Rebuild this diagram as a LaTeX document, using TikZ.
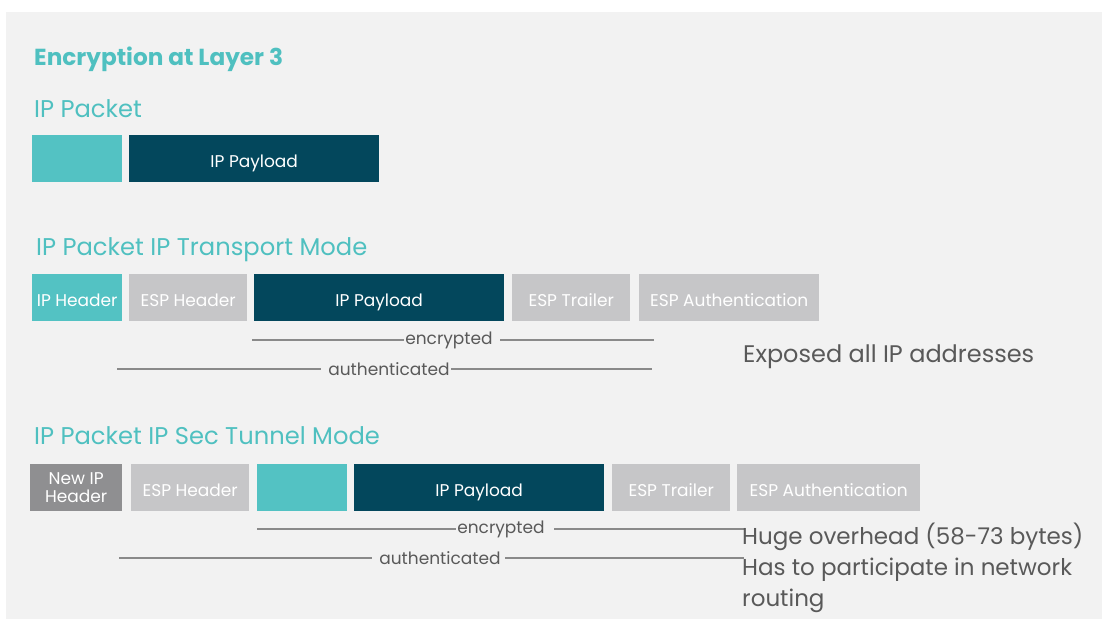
\documentclass[tikz,border=0pt]{standalone}
\usepackage{fontspec}
\setmainfont{Poppins}
\definecolor{bgc}{HTML}{F2F2F2}
\definecolor{teal}{HTML}{53C2C3}
\definecolor{tealt}{HTML}{4FC0C0}
\definecolor{dark}{HTML}{03475C}
\definecolor{lgray}{HTML}{C6C6C8}
\definecolor{mgray}{HTML}{8F8F91}
\definecolor{tgray}{HTML}{595959}
\definecolor{lgline}{HTML}{8A8A8A}
\begin{document}
\begin{tikzpicture}[x=1pt,y=-1pt,
  pbox/.style={rectangle,anchor=north west,inner sep=0pt,minimum height=47pt,text=white,font=\fontsize{17}{19}\selectfont,text height=17pt,text depth=0pt},
  hdr/.style={anchor=base west,inner sep=0pt,text=tealt,font=\fontsize{24.2}{30}\selectfont},
  lbl/.style={inner sep=1.5pt,text=tgray,font=\fontsize{17}{20}\selectfont},
  note/.style={anchor=base west,inner sep=0pt,text=tgray,font=\fontsize{24}{31}\selectfont},
  rule/.style={draw=lgline,line width=1.2pt}]
\useasboundingbox (0,0) rectangle (1102,619);
\fill[white] (0,0) rectangle (1102,619);
\fill[bgc] (6,12) rectangle (1102,619);
% headings
\node[hdr,font=\fontsize{23.2}{28}\selectfont\bfseries] (title) at (34,65) {Encryption at Layer 3};
\node[hdr] (h1) at (34,117) {IP Packet};
\node[hdr] (h2) at (36,255) {IP Packet IP Transport Mode};
\node[hdr] (h3) at (34,444) {IP Packet IP Sec Tunnel Mode};
% row 1
\node[pbox,fill=teal,minimum width=90pt] (r1h) at (32,135) {};
\node[pbox,fill=dark,minimum width=250pt] (r1p) at (129,135) {IP Payload};
% row 2
\node[pbox,fill=teal,minimum width=90pt] (r2h) at (32,274) {IP Header};
\node[pbox,fill=lgray,minimum width=118pt] (r2e) at (129,274) {ESP Header};
\node[pbox,fill=dark,minimum width=250pt] (r2p) at (254,274) {IP Payload};
\node[pbox,fill=lgray,minimum width=118pt] (r2t) at (512,274) {ESP Trailer};
\node[pbox,fill=lgray,minimum width=180pt] (r2a) at (639,274) {ESP Authentication};
% row 2 lines
\node[lbl] (enc2) at (449,340) {encrypted};
\coordinate (e2a) at (252,340);
\coordinate (e2b) at (654,340);
\draw[rule] (e2a) -- (enc2.west);
\draw[rule] ([xshift=6pt]enc2.east) -- (e2b);
\node[lbl] (aut2) at (389,369) {authenticated};
\coordinate (a2a) at (117,369);
\coordinate (a2b) at (652,369);
\draw[rule] (a2a) -- ([xshift=-6pt]aut2.west);
\draw[rule] (aut2.east) -- (a2b);
\node[note] (n2) at (743,362) {Exposed all IP addresses};
% row 3
\node[pbox,fill=mgray,minimum width=92pt,align=center,text height=,text depth=,font=\fontsize{17}{18}\selectfont] (r3n) at (30,464) {New IP\\Header};
\node[pbox,fill=lgray,minimum width=118pt] (r3e) at (131,464) {ESP Header};
\node[pbox,fill=teal,minimum width=90pt] (r3h) at (257,464) {};
\node[pbox,fill=dark,minimum width=250pt] (r3p) at (354,464) {IP Payload};
\node[pbox,fill=lgray,minimum width=118pt] (r3t) at (612,464) {ESP Trailer};
\node[pbox,fill=lgray,minimum width=183pt] (r3a) at (737,464) {ESP Authentication};
% row 3 lines
\node[lbl] (enc3) at (501,529) {encrypted};
\coordinate (e3a) at (257,529);
\coordinate (e3b) at (744,529);
\draw[rule] (e3a) -- (enc3.west);
\draw[rule] ([xshift=8pt]enc3.east) -- (e3b);
\node[lbl] (aut3) at (440,558) {authenticated};
\coordinate (a3a) at (119,558);
\coordinate (a3b) at (744,558);
\draw[rule] (a3a) -- ([xshift=-6pt]aut3.west);
\draw[rule] ([xshift=3pt]aut3.east) -- (a3b);
\node[note,font=\fontsize{23}{31}\selectfont] (n3a) at (742,544) {Huge overhead (58-73 bytes)};
\node[note,font=\fontsize{23}{31}\selectfont] (n3b) at (742,575) {Has to participate in network};
\node[note,font=\fontsize{23}{31}\selectfont] (n3c) at (742,606) {routing};
\end{tikzpicture}
\end{document}
